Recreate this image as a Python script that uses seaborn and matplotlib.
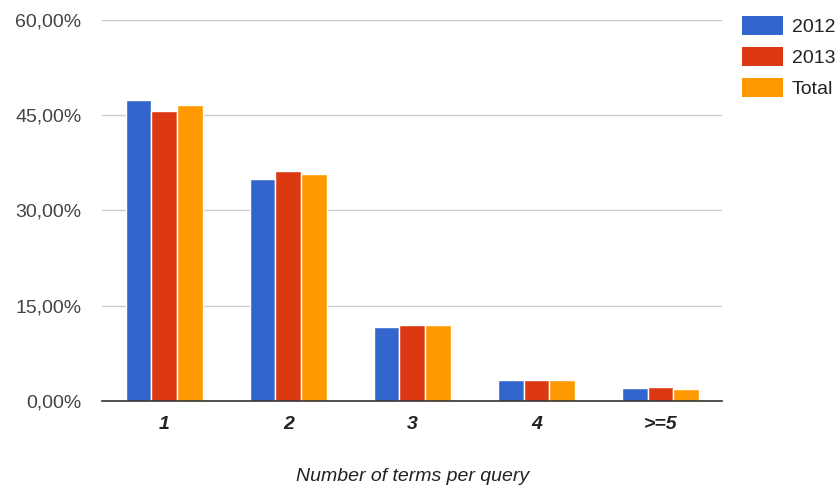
import matplotlib
matplotlib.use("Agg")
import matplotlib.pyplot as plt
import seaborn as sns
import pandas as pd
from matplotlib.ticker import FuncFormatter
from matplotlib.patches import Patch

categories = ["1", "2", "3", "4", ">=5"]
series = ["2012", "2013", "Total"]
v2012 = [47.3, 34.9, 11.7, 3.3, 2.0]
v2013 = [45.7, 36.2, 12.0, 3.3, 2.2]
vtotal = [46.5, 35.7, 12.0, 3.3, 1.95]
colors = ["#3366cc", "#dc3912", "#ff9900"]

rows = []
for s, vals in zip(series, [v2012, v2013, vtotal]):
    for c, v in zip(categories, vals):
        rows.append({"cat": c, "series": s, "value": v})
df = pd.DataFrame(rows)

sns.set_theme(style="white")
plt.rcParams["font.family"] = ["Liberation Sans", "DejaVu Sans"]

fig = plt.figure(figsize=(8.38, 4.92), dpi=100)
ax = fig.add_axes([0.122, 0.185, 0.740, 0.775])

sns.barplot(data=df, x="cat", y="value", hue="series", palette=colors,
            order=categories, hue_order=series, width=0.62, saturation=1,
            edgecolor="white", linewidth=1.0, ax=ax, legend=False, zorder=3)

ax.set_ylim(0, 60)
ax.set_xlim(-0.5, 4.5)
ax.set_yticks([0, 15, 30, 45, 60])
ax.yaxis.set_major_formatter(FuncFormatter(lambda v, p: f"{v:.2f}".replace(".", ",") + "%"))
ax.grid(axis="y", color="#cccccc", linewidth=1, zorder=0)
ax.set_axisbelow(True)
for s in ["top", "right", "left"]:
    ax.spines[s].set_visible(False)
ax.spines["bottom"].set_color("#333333")
ax.spines["bottom"].set_linewidth(1.2)
ax.spines["bottom"].set_zorder(5)

ax.tick_params(axis="y", length=0, pad=15, labelsize=14, labelcolor="#444444")
ax.tick_params(axis="x", length=0, pad=11, labelsize=14, labelcolor="#222222")
for lab in ax.get_xticklabels():
    lab.set_fontstyle("italic")
    lab.set_fontweight("bold")

ax.set_ylabel("")
ax.set_xlabel("Number of terms per query", fontsize=14, fontstyle="italic",
              color="#222222", labelpad=25)

handles = [Patch(facecolor=c, edgecolor="none", label=s) for s, c in zip(series, colors)]
fig.legend(handles=handles, loc="upper left", bbox_to_anchor=(742 / 838, 1 - 16 / 492),
           frameon=False, fontsize=14, handlelength=2.1, handleheight=1.15,
           labelspacing=0.55, handletextpad=0.45, borderpad=0, borderaxespad=0,
           labelcolor="#222222")

fig.savefig("out.png", dpi=100)
